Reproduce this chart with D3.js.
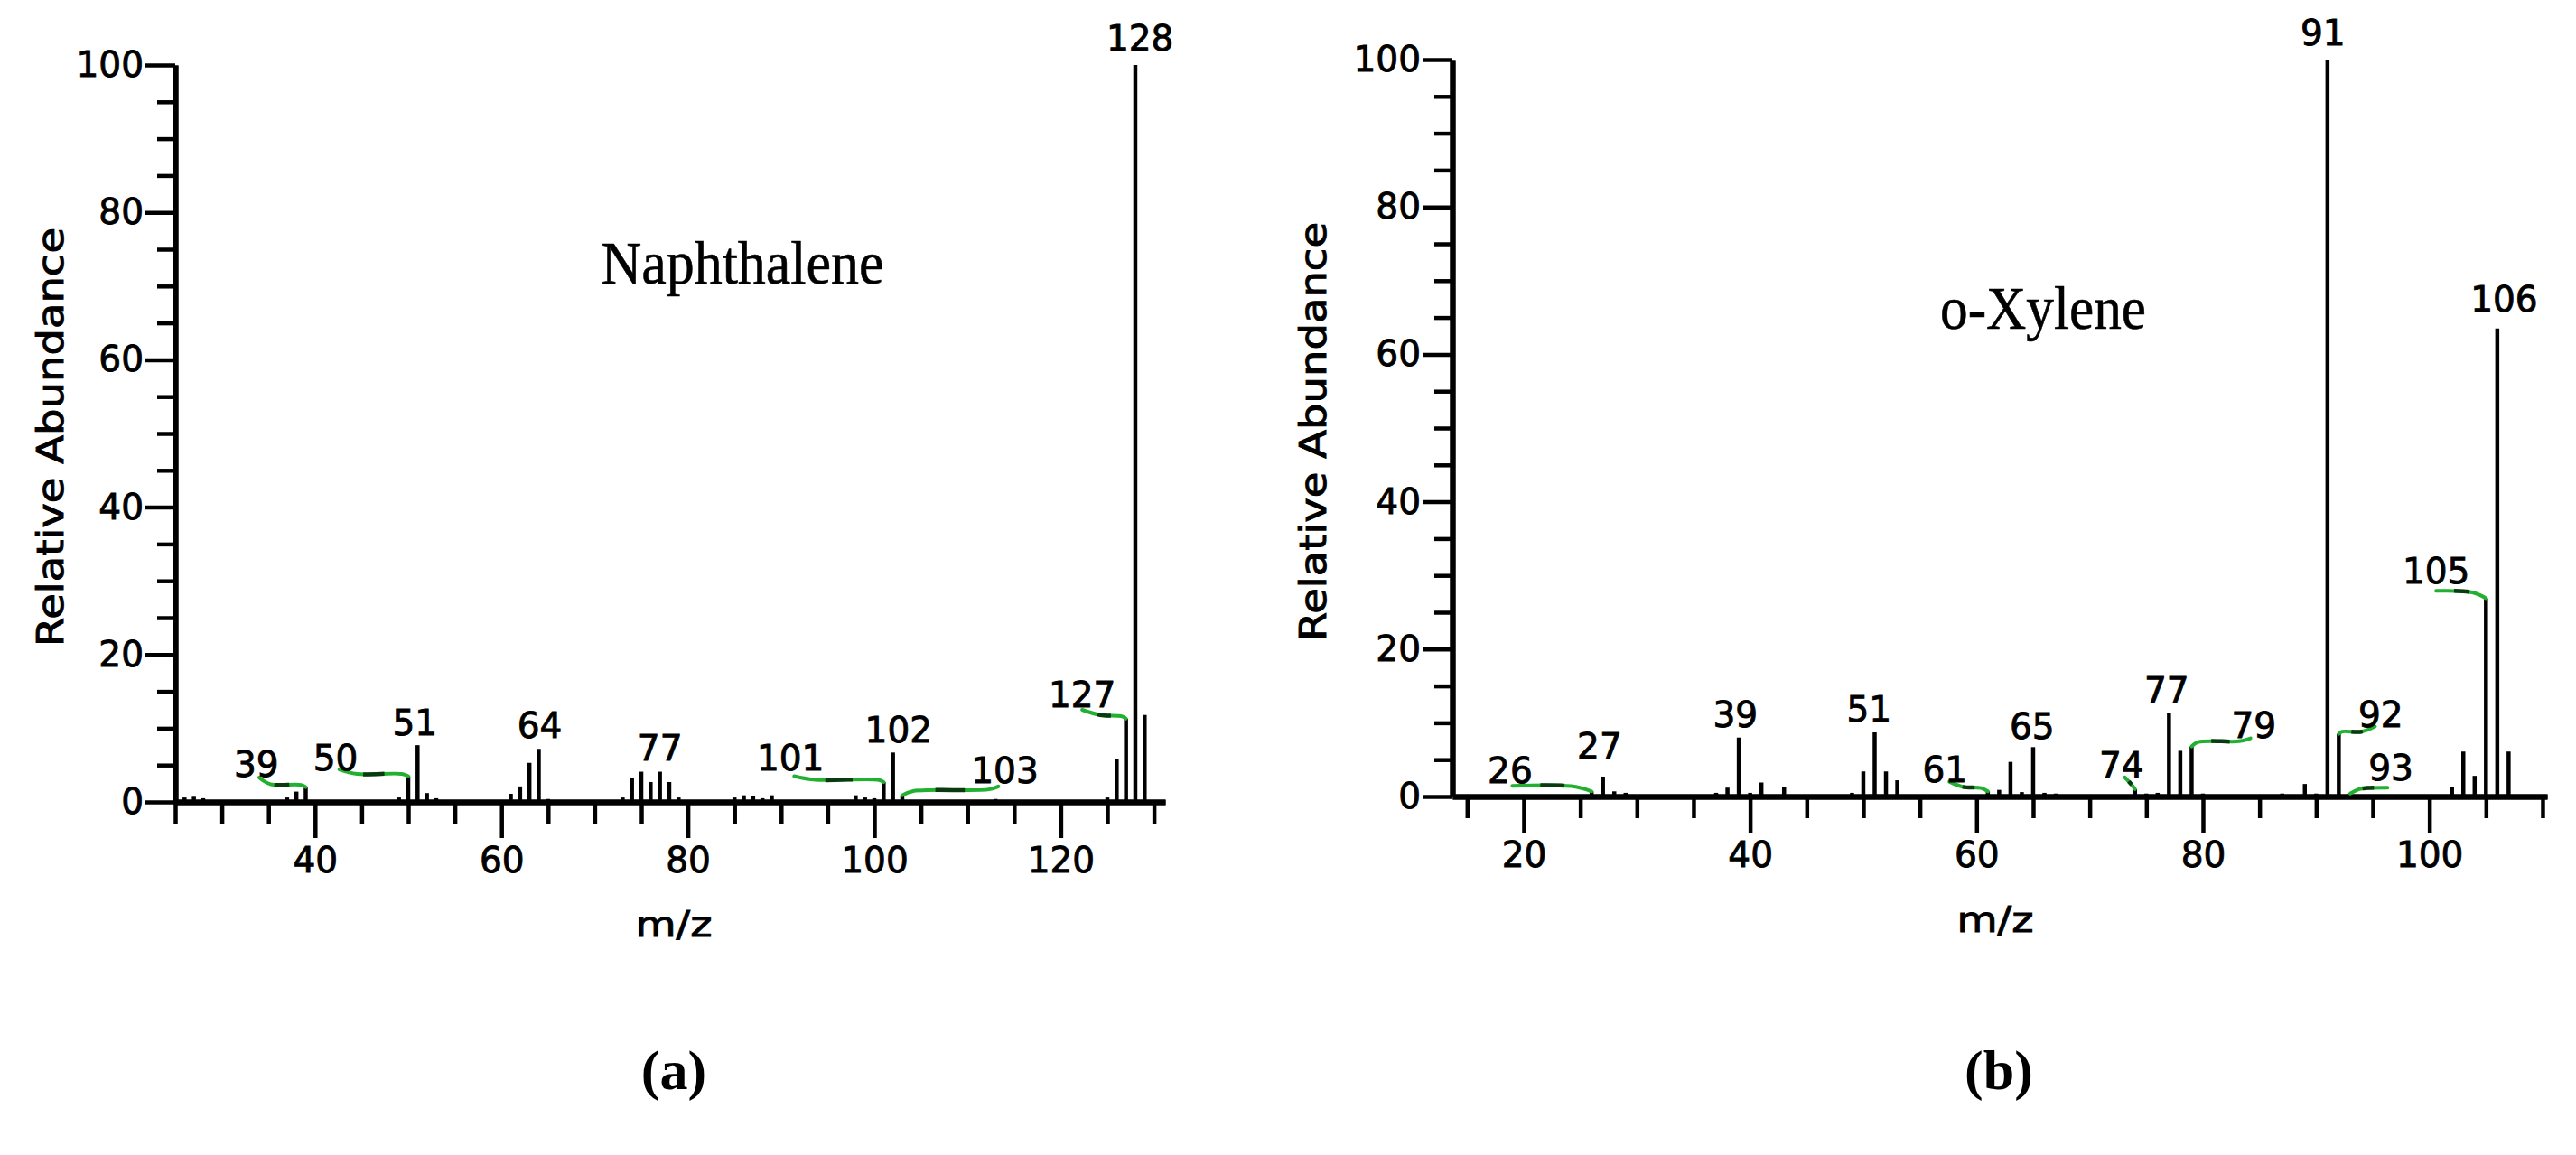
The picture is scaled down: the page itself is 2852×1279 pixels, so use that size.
<!DOCTYPE html>
<html><head><meta charset="utf-8">
<script src="https://cdn.jsdelivr.net/npm/d3@7"></script>
<style>html,body{margin:0;padding:0;background:#fff;} svg{display:block;}</style>
</head><body>
<svg id="chart" width="2852" height="1279"></svg>
<script>
// ---------- DATA ----------
// (a) Naphthalene
const mzA = [26,27,28,37,38,39,49,50,51,52,53,61,62,63,64,65,73,74,75,76,77,78,79,85,86,87,88,89,98,99,100,101,102,103,113,125,126,127,128,129];
const abundA = [0.6,0.7,0.5,0.6,1.4,2.0,0.6,3.5,7.7,1.2,0.5,1.1,2.1,5.3,7.2,0.4,0.6,3.3,4.1,2.7,4.1,2.7,0.6,0.6,0.9,0.8,0.5,0.9,0.9,0.6,0.5,2.7,6.7,0.9,0.4,0.6,5.8,11.3,100,11.8];
const labeledA = [39,50,51,64,77,101,102,103,127,128];
// (b) o-Xylene
const mzB = [26,27,28,29,37,38,39,40,41,43,49,50,51,52,53,61,62,63,64,65,66,67,74,75,76,77,78,79,80,87,89,90,91,92,93,102,103,104,105,106,107];
const abundB = [0.7,2.7,0.7,0.5,0.5,1.2,8.0,0.5,1.9,1.3,0.5,3.4,8.7,3.4,2.2,0.7,0.9,4.7,0.6,6.7,0.5,0.4,1.0,0.4,0.5,11.3,6.2,6.8,0.4,0.4,1.7,0.4,100,8.5,0.4,1.3,6.1,2.8,26.9,63.5,6.1];
const labeledB = [26,27,39,51,61,65,74,77,79,91,92,93,105,106];
// axis ticks
const yTickLabels = [0,20,40,60,80,100];
const xTickLabelsA = [40,60,80,100,120];
const xTickLabelsB = [20,40,60,80,100];
const titles = ["Naphthalene","o-Xylene"];
const panelTags = ["(a)","(b)"];
const xTitle = "m/z", yTitle = "Relative Abundance";

// ---------- LAYOUT (annotation positions in data units of each panel) ----------
const labelPosA = {39:[33.7,5.2],50:[42.2,6.0],51:[50.7,10.8],64:[64.1,10.4],77:[77,7.3],101:[91,6.0],102:[102.6,9.8],103:[114,4.25],127:[122.3,14.6],128:[128.5,103.7]};
const leaderPtsA = {
  39:[[34.0,3.3],[35.2,2.4],[38.5,2.3],[39,2.0]],
  50:[[42.6,4.4],[44.5,3.8],[49.3,3.8],[50,3.5]],
  101:[[91.4,3.5],[93.7,3.0],[100.4,3.0],[101,2.7]],
  103:[[103,0.9],[104.1,1.45],[112.3,1.7],[113.3,2.1]],
  127:[[122.3,12.5],[124.2,11.8],[126.6,11.6],[127,11.3]]
};
const labelPosB = {26:[18.8,3.6],27:[26.7,6.9],39:[38.7,11.1],51:[50.5,11.9],61:[57.2,3.7],65:[64.9,9.6],74:[72.8,4.3],77:[76.8,14.5],79:[84.5,9.7],91:[90.6,103.7],92:[95.7,11.1],93:[96.6,3.9],105:[100.6,30.7],106:[106.6,67.5]};
const leaderPtsB = {
  26:[[19.0,1.45],[24.2,1.4],[26,0.7]],
  61:[[57.6,2.0],[58.8,1.3],[60.4,1.15],[61,0.7]],
  74:[[73.1,2.6],[73.7,1.6],[74,1.0]],
  79:[[79,6.8],[79.6,7.4],[83.2,7.5],[84.2,7.9]],
  92:[[92,8.5],[92.3,8.8],[94,8.8],[95.2,9.5]],
  93:[[93,0.4],[93.8,1.0],[94.5,1.15],[96.3,1.2]],
  105:[[100.6,27.9],[103.8,27.7],[105,26.9]]
};

const panels = [
  {mz:mzA, ab:abundA, labeled:labeledA, labelPos:labelPosA, leaders:leaderPtsA, xMajor:xTickLabelsA,
   domain:[25,131.2], left:194, right:1290, base:888, top:72,
   title:titles[0], titleX:822, titleY:314, titleLen:313,
   tag:panelTags[0], tagX:746, tagY:1206, xTitleX:746, xTitleY:1037, yTitleX:56, yTitleY:484},
  {mz:mzB, ab:abundB, labeled:labeledB, labelPos:labelPosB, leaders:leaderPtsB, xMajor:xTickLabelsB,
   domain:[13.7,110.4], left:1608, right:2820, base:882, top:66,
   title:titles[1], titleX:2262, titleY:364, titleLen:228,
   tag:panelTags[1], tagX:2213, tagY:1206, xTitleX:2209, xTitleY:1032, yTitleX:1454, yTitleY:478}
];

const svg = d3.select("#chart");
svg.append("rect").attr("width",2852).attr("height",1279).attr("fill","#fff");
const SANS = "'DejaVu Sans', sans-serif";
const SERIF = "'Liberation Serif', 'DejaVu Serif', serif";
const FS = 39;

panels.forEach(p => {
  const x = d3.scaleLinear().domain(p.domain).range([p.left, p.right]);
  const y = d3.scaleLinear().domain([0,100]).range([p.base, p.top]);
  const g = svg.append("g");

  const allX = d3.range(Math.ceil(p.domain[0]/5)*5, p.domain[1]+1e-6, 5);
  const minorX = allX.filter(v => !p.xMajor.includes(v));
  const gxm = g.append("g").attr("transform",`translate(0,${p.base})`)
    .call(d3.axisBottom(x).tickValues(minorX).tickSize(24).tickSizeOuter(0).tickFormat(""));
  const gx = g.append("g").attr("transform",`translate(0,${p.base})`)
    .call(d3.axisBottom(x).tickValues(p.xMajor).tickSize(40).tickSizeOuter(0).tickPadding(10).tickFormat(d3.format("d")));
  const minorY = d3.range(0,101,5).filter(v => !yTickLabels.includes(v));
  const gym = g.append("g").attr("transform",`translate(${p.left},0)`)
    .call(d3.axisLeft(y).tickValues(minorY).tickSize(20).tickSizeOuter(0).tickFormat(""));
  const gy = g.append("g").attr("transform",`translate(${p.left},0)`)
    .call(d3.axisLeft(y).tickValues(yTickLabels).tickSize(33).tickSizeOuter(0).tickPadding(2).tickFormat(d3.format("d")));

  [gxm,gx,gym,gy].forEach(a => {
    a.selectAll(".domain").attr("stroke","#000").attr("stroke-width",6);
    a.selectAll(".tick line").attr("stroke","#000").attr("stroke-width",4.5);
    a.selectAll(".tick text").attr("fill","#000").attr("font-size",FS).attr("font-family",SANS)
      .attr("stroke","#000").attr("stroke-width",0.9);
  });

  // bars
  g.append("g").selectAll("line").data(d3.zip(p.mz,p.ab)).join("line")
    .attr("x1",d=>x(d[0])).attr("x2",d=>x(d[0]))
    .attr("y1",y(0)).attr("y2",d=>y(d[1]))
    .attr("stroke","#000").attr("stroke-width",4.5);

  // leader lines: green with a dark middle section
  const line = d3.line().x(d=>x(d[0])).y(d=>y(d[1])).curve(d3.curveCatmullRom.alpha(0.5));
  const lg = g.append("g");
  const leaders = Object.values(p.leaders);
  lg.selectAll("path.g").data(leaders).join("path").attr("class","g")
    .attr("d",line).attr("fill","none").attr("stroke","#22b030").attr("stroke-width",4)
    .attr("stroke-linecap","round");
  lg.selectAll("path.k").data(leaders).join("path").attr("class","k")
    .attr("d",line).attr("fill","none").attr("stroke","#0a3a10").attr("stroke-width",4.5)
    .each(function(){
      const L = this.getTotalLength();
      d3.select(this).attr("stroke-dasharray",`0 ${L*0.35} ${L*0.3} ${L}`);
    });

  // peak labels
  g.append("g").selectAll("text").data(p.labeled).join("text")
    .attr("x",d=>x(p.labelPos[d][0])).attr("y",d=>y(p.labelPos[d][1]))
    .attr("dy","0.36em").attr("text-anchor","middle")
    .attr("font-family",SANS).attr("font-size",FS).attr("fill","#000")
    .attr("stroke","#000").attr("stroke-width",0.9)
    .text(d=>d);

  // titles
  g.append("text").attr("x",p.titleX).attr("y",p.titleY).attr("text-anchor","middle")
    .attr("font-family",SERIF).attr("font-size",68).attr("fill","#000")
    .attr("stroke","#000").attr("stroke-width",0.6)
    .attr("textLength",p.titleLen).attr("lengthAdjust","spacingAndGlyphs").text(p.title);
  g.append("text").attr("x",p.xTitleX).attr("y",p.xTitleY).attr("text-anchor","middle")
    .attr("font-family",SANS).attr("font-size",FS).attr("fill","#000")
    .attr("stroke","#000").attr("stroke-width",0.9)
    .attr("textLength",85).attr("lengthAdjust","spacingAndGlyphs").text(xTitle);
  g.append("text").attr("transform",`translate(${p.yTitleX},${p.yTitleY}) rotate(-90)`)
    .attr("text-anchor","middle").attr("dy","0.36em")
    .attr("font-family",SANS).attr("font-size",40).attr("fill","#000")
    .attr("stroke","#000").attr("stroke-width",0.9)
    .attr("textLength",464).attr("lengthAdjust","spacingAndGlyphs").text(yTitle);
  g.append("text").attr("x",p.tagX).attr("y",p.tagY).attr("text-anchor","middle")
    .attr("font-family",SERIF).attr("font-weight","bold").attr("font-size",62).attr("fill","#000")
    .text(p.tag);
});
</script>
</body></html>
